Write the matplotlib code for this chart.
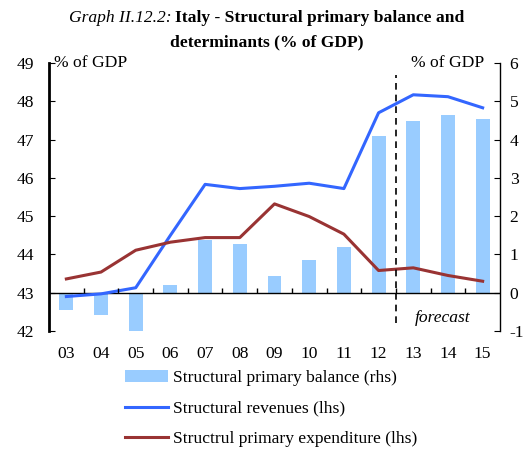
import matplotlib
matplotlib.use("Agg")
import matplotlib.pyplot as plt
import numpy as np

# values
years = ["03", "04", "05", "06", "07", "08", "09", "10", "11", "12", "13", "14", "15"]
revenues = [42.90, 42.97, 43.13, 44.50, 45.83, 45.72, 45.78, 45.86, 45.72, 47.70, 48.17, 48.12, 47.83]
expenditure = [43.36, 43.54, 44.11, 44.32, 44.44, 44.44, 45.32, 44.99, 44.53, 43.58, 43.65, 43.45, 43.30]
balance = [-0.45, -0.57, -0.99, 0.21, 1.37, 1.27, 0.44, 0.86, 1.19, 4.09, 4.49, 4.64, 4.53]

plt.rcParams['font.family'] = ['Liberation Serif', 'DejaVu Serif']
plt.rcParams['axes.unicode_minus'] = False
fs = 12.6

fig = plt.figure(figsize=(5.28, 4.5), dpi=100)
ax = fig.add_axes([49 / 528, 1 - 331 / 450, 451 / 528, 268 / 450])
ax2 = ax.twinx()
ax.set_zorder(ax2.get_zorder() + 1)
ax.patch.set_visible(False)

x = np.arange(len(years))
bars = ax2.bar(x, balance, width=0.4, color='#99ccff', label='Structural primary balance (rhs)')
l1, = ax.plot(x, revenues, color='#3366ff', lw=2.2, label='Structural revenues (lhs)')
l2, = ax.plot(x, expenditure, color='#993333', lw=2.2, label='Structrul primary expenditure (lhs)')

ax.set_xlim(-0.5, len(years) - 0.5)
ax.set_ylim(42, 49)
ax2.set_ylim(-1, 6)
ax.set_yticks(range(42, 50))
ax2.set_yticks(range(-1, 7))

# zero line with small ticks between categories
ax.axhline(43, color='black', lw=1, zorder=1)
ax.vlines(x[:-1] + 0.5, 43, 43.13, color='black', lw=1)

# forecast separator
ax.axvline(9.5, ymin=0.03, ymax=0.955, color='black', lw=1.2, ls=(0, (4, 3)))
ax.text(10.05, 42.35, 'forecast', style='italic', fontsize=fs, va='center')

for a in (ax, ax2):
    a.spines['top'].set_visible(False)
    a.spines['bottom'].set_visible(False)
ax.spines['right'].set_visible(False)
ax2.spines['left'].set_visible(False)
ax.spines['left'].set_linewidth(2)
ax2.spines['right'].set_linewidth(1)

ax.set_xticks(x)
ax.set_xticklabels(years)
ax.tick_params(axis='x', length=0, pad=11, labelsize=fs)
ax.tick_params(axis='y', direction='in', length=4, pad=11, labelsize=fs)
ax2.tick_params(axis='y', direction='in', length=4, pad=7, labelsize=fs)

ax.text(0.01, 49, '% of GDP', fontsize=fs, va='center', ha='left', transform=ax.get_yaxis_transform())
ax.text(0.965, 49, '% of GDP', fontsize=fs, va='center', ha='right', transform=ax.get_yaxis_transform())

# title: italic prefix, bold rest
fig.text(172 / 528, 1 - 18 / 450, 'Graph II.12.2:', style='italic', fontsize=fs, ha='right', va='center')
fig.text(175 / 528, 1 - 18 / 450, 'Italy - Structural primary balance and', weight='bold', fontsize=fs,
         ha='left', va='center')
fig.text(267 / 528, 1 - 42 / 450, 'determinants (% of GDP)', weight='bold', fontsize=fs, ha='center', va='center')

fig.legend(handles=[bars, l1, l2], loc='upper left', bbox_to_anchor=(118 / 528, 1 - 363 / 450),
           frameon=False, fontsize=fs, handlelength=2.45, handletextpad=0.28, labelspacing=0.82,
           borderaxespad=0)

fig.savefig('out.png', dpi=100)
